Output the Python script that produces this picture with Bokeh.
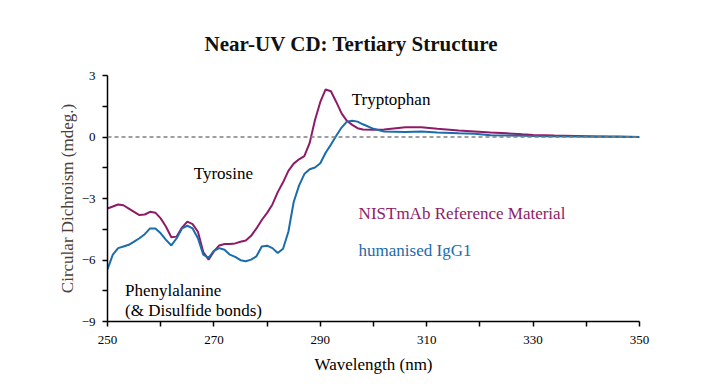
from bokeh.plotting import figure
from bokeh.models import FixedTicker, Span, Label, Title
from bokeh.embed import file_html
from bokeh.resources import INLINE

wavelength_nist = [250, 252, 253, 254, 256, 257, 258, 259, 260, 261, 262, 263, 264, 265, 266, 267,
                   268, 269, 270, 271, 272, 273, 274, 275, 276, 277, 278, 279, 280, 281, 282, 283,
                   284, 285, 286, 287, 288, 289, 290, 291, 292, 293, 294, 295, 296, 297, 298, 300,
                   302, 306, 309, 312, 316, 319, 322, 325, 328, 330, 334, 338, 342, 346, 350]
cd_nist = [-3.49, -3.29, -3.33, -3.49, -3.81, -3.78, -3.65, -3.69, -3.97, -4.38, -4.89, -4.86,
           -4.42, -4.13, -4.25, -4.62, -5.61, -5.98, -5.58, -5.29, -5.22, -5.22, -5.19, -5.11,
           -5.05, -4.82, -4.46, -4.05, -3.70, -3.29, -2.69, -2.21, -1.65, -1.30, -1.09, -0.93,
           -0.29, 0.83, 1.71, 2.32, 2.23, 1.71, 1.15, 0.79, 0.59, 0.43, 0.37, 0.35, 0.37, 0.48,
           0.47, 0.40, 0.32, 0.27, 0.22, 0.18, 0.13, 0.10, 0.07, 0.05, 0.03, 0.02, 0.0]

wavelength_igg = [250, 251, 252, 253, 254, 255, 256, 257, 258, 259, 260, 261, 262, 263, 264, 265,
                  266, 267, 268, 269, 270, 271, 272, 273, 274, 275, 276, 277, 278, 279, 280, 281,
                  282, 283, 284, 285, 286, 287, 288, 289, 290, 291, 292, 293, 294, 295, 296, 297,
                  298, 300, 302, 306, 309, 312, 316, 319, 322, 325, 328, 332, 338, 344, 350]
cd_igg = [-6.46, -5.74, -5.42, -5.34, -5.26, -5.10, -4.94, -4.74, -4.46, -4.46, -4.70, -5.02,
          -5.29, -4.94, -4.46, -4.33, -4.46, -4.94, -5.74, -5.90, -5.55, -5.42, -5.50, -5.74,
          -5.85, -6.01, -6.06, -5.98, -5.82, -5.34, -5.30, -5.42, -5.66, -5.45, -4.62, -3.17,
          -2.37, -1.81, -1.57, -1.49, -1.28, -0.77, -0.37, 0.06, 0.46, 0.75, 0.79, 0.75, 0.62,
          0.40, 0.27, 0.24, 0.27, 0.22, 0.18, 0.16, 0.09, 0.07, 0.06, 0.04, 0.03, 0.01, 0.0]

x_ticks = [250, 270, 290, 310, 330, 350]
x_minor = [260, 280, 300, 320, 340]
y_ticks = [-9, -6, -3, 0, 3]
y_minor = [-7.5, -4.5, -1.5, 1.5]

SERIF = "Liberation Serif"
MAGENTA = "#8E1B68"
BLUE = "#1A6CAB"

p = figure(width=697, height=376, output_backend="svg", toolbar_location=None,
           x_range=(250, 350), y_range=(-9, 3),
           min_border_left=107, min_border_right=58, min_border_top=75, min_border_bottom=51)

p.title = Title(text="Near-UV CD: Tertiary Structure", align="left",
                text_font=SERIF, text_font_size="21px", text_font_style="bold",
                text_color="#111111", offset=97, standoff=40)

p.grid.visible = False
p.outline_line_color = None
p.background_fill_color = "white"
p.border_fill_color = "white"

for ax in (p.xaxis[0], p.yaxis[0]):
    ax.axis_line_color = "black"
    ax.axis_line_width = 1.5
    ax.major_tick_line_color = "black"
    ax.minor_tick_line_color = "black"
    ax.major_tick_line_width = 1.5
    ax.minor_tick_line_width = 1.5
    ax.major_tick_in = 0
    ax.major_tick_out = 5
    ax.minor_tick_in = 0
    ax.minor_tick_out = 5
    ax.major_label_text_font = SERIF
    ax.major_label_text_font_size = "13px"
    ax.major_label_text_color = "black"
    ax.axis_label_text_font = SERIF
    ax.axis_label_text_font_size = "17px"
    ax.axis_label_text_font_style = "normal"

p.xaxis[0].ticker = FixedTicker(ticks=x_ticks, minor_ticks=x_minor)
p.yaxis[0].ticker = FixedTicker(ticks=y_ticks, minor_ticks=y_minor)
p.xaxis[0].axis_label = "Wavelength (nm)"
p.yaxis[0].axis_label = "Circular Dichroism (mdeg.)"
p.xaxis[0].axis_label_text_color = "black"
p.yaxis[0].axis_label_text_color = "#4a4036"
p.xaxis[0].major_label_standoff = 9
p.yaxis[0].major_label_standoff = 7
p.xaxis[0].axis_label_standoff = 8
p.yaxis[0].axis_label_standoff = 2

p.add_layout(Span(location=0, dimension="width", line_color="#808080",
                  line_dash="4 3", line_width=1.5))

p.line(wavelength_nist, cd_nist, line_color=MAGENTA, line_width=2)
p.line(wavelength_igg, cd_igg, line_color=BLUE, line_width=2)

labels = [
    ("Tryptophan", 295.9, 1.85, "black"),
    ("Tyrosine", 266.2, -1.8, "black"),
    ("NISTmAb Reference Material", 297.2, -3.72, MAGENTA),
    ("humanised IgG1", 297.2, -5.53, BLUE),
    ("Phenylalanine", 253.3, -7.48, "black"),
    ("(& Disulfide bonds)", 253.3, -8.44, "black"),
]
for txt, x, y, c in labels:
    p.add_layout(Label(x=x, y=y, text=txt, text_font=SERIF, text_font_size="17px",
                       text_color=c, text_baseline="alphabetic"))

open("out.html", "w").write(file_html(p, INLINE))
